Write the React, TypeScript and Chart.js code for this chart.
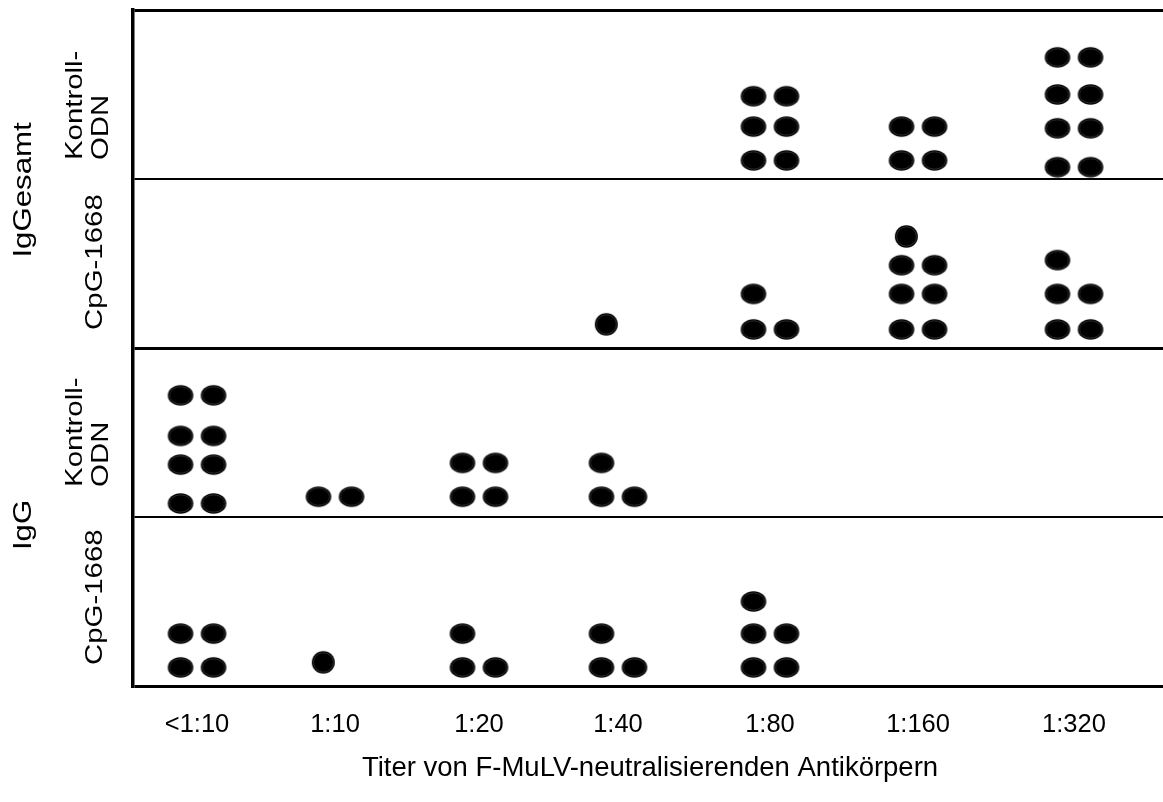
import React, { useEffect, useRef } from 'react';
import { Chart, registerables } from 'chart.js';

Chart.register(...registerables);

const FONT = '"Liberation Sans", Arial, Helvetica, sans-serif';

// Titer categories (x axis)
const titerLabels = ['<1:10', '1:10', '1:20', '1:40', '1:80', '1:160', '1:320'];
const titerPositions = [0, 0.944, 1.929, 2.88, 3.92, 4.933, 6];
const xAxisTitle = 'Titer von F-MuLV-neutralisierenden Antikörpern';

// Panels stacked on the y axis (0-10 bottom panel ... 30-40 top panel)
const panelBounds = [0, 10, 20, 30, 40];
const groupLabels = ['IgGesamt', 'IgG'];
const groupLabelLevels = [29.35, 9.53];
const treatmentLabels = [['Kontroll-', 'ODN'], ['CpG-1668'], ['Kontroll-', 'ODN'], ['CpG-1668']];
const treatmentLabelLevels = [31.12, 21.07, 11.78, 1.24];

// Rows of animals: [titer index, y level, dots in the row, round dot]
const igGesamtKontrollRows = [
  [4, 34.9, 2], [4, 33.1, 2], [4, 31.1, 2],
  [5, 33.1, 2], [5, 31.1, 2],
  [6, 37.2, 2], [6, 35.0, 2], [6, 33.0, 2], [6, 30.7, 2],
];
const igGesamtCpgRows = [
  [3, 21.4, 1, 1],
  [4, 23.2, 1], [4, 21.1, 2],
  [5, 26.6, 1, 1], [5, 24.9, 2], [5, 23.2, 2], [5, 21.1, 2],
  [6, 25.2, 1], [6, 23.2, 2], [6, 21.1, 2],
];
const igGKontrollRows = [
  [0, 17.2, 2], [0, 14.8, 2], [0, 13.1, 2], [0, 10.8, 2],
  [1, 11.2, 2],
  [2, 13.2, 2], [2, 11.2, 2],
  [3, 13.2, 1], [3, 11.2, 2],
];
const igGCpgRows = [
  [0, 3.1, 2], [0, 1.1, 2],
  [1, 1.4, 1, 1],
  [2, 3.1, 1], [2, 1.1, 2],
  [3, 3.1, 1], [3, 1.1, 2],
  [4, 5.0, 1], [4, 3.1, 2], [4, 1.1, 2],
];

const colOffset = 0.113;
const roundOffset = 0.08;

// target plot frame inside the 1163x802 canvas
const AREA = { left: 133, top: 10, right: 1163, bottom: 686 };

function makeDot(w: number, h: number): HTMLCanvasElement {
  const c = document.createElement('canvas');
  c.width = Math.ceil(w) + 2;
  c.height = Math.ceil(h) + 2;
  const g = c.getContext('2d')!;
  g.beginPath();
  g.ellipse(c.width / 2, c.height / 2, w / 2, h / 2, 0, 0, Math.PI * 2);
  g.fillStyle = '#000';
  g.fill();
  g.beginPath();
  g.ellipse(c.width / 2, c.height / 2, w / 2 - 1.6, h / 2 - 1.6, 0, 0, Math.PI * 2);
  g.strokeStyle = 'rgba(110,110,110,0.7)';
  g.lineWidth = 0.6;
  g.stroke();
  return c;
}

function toPoints(rows: number[][]) {
  const pts: { x: number; y: number; round: boolean }[] = [];
  rows.forEach(([ti, y, n, r]) => {
    const cx = titerPositions[ti];
    if (n === 2) {
      pts.push({ x: cx - colOffset, y, round: false });
      pts.push({ x: cx + colOffset, y, round: false });
    } else {
      pts.push({ x: cx - (r ? roundOffset : colOffset), y, round: !!r });
    }
  });
  return pts;
}

export default function App() {
  const ref = useRef<HTMLCanvasElement>(null);

  useEffect(() => {
    if (!ref.current) return;
    const oval = makeDot(25.5, 20.5);
    const round = makeDot(23, 22.5);

    const labelsPlugin = {
      id: 'panelLabels',
      afterDraw(chart: any) {
        const ctx = chart.ctx as CanvasRenderingContext2D;
        const ys = chart.scales.y;
        const xs = chart.scales.x;
        const area = chart.chartArea;
        const rot = (text: string, x: number, y: number, align: CanvasTextAlign, base: CanvasTextBaseline) => {
          ctx.save();
          ctx.translate(x, y);
          ctx.rotate(-Math.PI / 2);
          ctx.scale(1.2, 1);
          ctx.textAlign = align;
          ctx.textBaseline = base;
          ctx.fillText(text, 0, 0);
          ctx.restore();
        };
        ctx.save();
        ctx.fillStyle = '#000';
        ctx.font = `26px ${FONT}`;
        groupLabels.forEach((t, i) => rot(t, 24, ys.getPixelForValue(groupLabelLevels[i]), 'center', 'middle'));
        ctx.font = `24.5px ${FONT}`;
        treatmentLabels.forEach((lines, i) => {
          const y = ys.getPixelForValue(treatmentLabelLevels[i]);
          if (lines.length === 2) {
            rot(lines[0], 82, y, 'left', 'alphabetic');
            rot(lines[1], 108, y, 'left', 'alphabetic');
          } else {
            rot(lines[0], 102, y, 'left', 'alphabetic');
          }
        });
        // x tick labels
        ctx.font = `25.5px ${FONT}`;
        ctx.textAlign = 'center';
        ctx.textBaseline = 'middle';
        titerLabels.forEach((t, i) => ctx.fillText(t, xs.getPixelForValue(titerPositions[i]), area.bottom + 39));
        // x axis title
        ctx.font = `27.5px ${FONT}`;
        ctx.fillText(xAxisTitle, (area.left + area.right) / 2 + 2, area.bottom + 82);
        ctx.restore();
      },
    };

    const panels = [igGesamtKontrollRows, igGesamtCpgRows, igGKontrollRows, igGCpgRows];
    const chart = new Chart(ref.current, {
      type: 'scatter',
      data: {
        datasets: panels.map((rows, i) => ({
          label: 'panel' + i,
          data: toPoints(rows),
          pointStyle: (c: any) => (c.raw && c.raw.round ? round : oval),
          pointRadius: 12,
          backgroundColor: '#000',
          borderColor: '#000',
          clip: false,
        })),
      },
      options: {
        responsive: false,
        animation: false,
        events: [],
        layout: {
          autoPadding: false,
          padding: { left: AREA.left, top: AREA.top, right: 1163 - AREA.right, bottom: 802 - AREA.bottom },
        },
        plugins: { legend: { display: false }, tooltip: { enabled: false } },
        scales: {
          x: {
            type: 'linear',
            display: false,
            min: -0.438,
            max: 6.609,
          },
          y: {
            type: 'linear',
            min: 0,
            max: 40,
            afterBuildTicks: (s: any) => {
              s.ticks = panelBounds.map((v) => ({ value: v }));
            },
            ticks: { display: false },
            grid: {
              drawTicks: false,
              tickLength: 0,
              color: '#000',
              lineWidth: (c: any) => (c.tick && c.tick.value % 20 === 0 ? 3 : 2),
            },
            border: { display: true, color: '#000', width: 3.5 },
          },
        },
      },
      plugins: [labelsPlugin],
    } as any);

    // correct the layout so that the plot frame lands exactly on AREA
    const a = chart.chartArea;
    const p = { left: AREA.left, top: AREA.top, right: 1163 - AREA.right, bottom: 802 - AREA.bottom };
    const fixed = {
      left: p.left + (AREA.left - a.left),
      top: p.top + (AREA.top - a.top),
      right: p.right + (a.right - AREA.right),
      bottom: p.bottom + (a.bottom - AREA.bottom),
    };
    (chart.options as any).layout.padding = fixed;
    chart.update();

    return () => chart.destroy();
  }, []);

  return (
    <div style={{ position: 'absolute', left: 0, top: 0, width: 1163, height: 802, background: '#fff' }}>
      <canvas ref={ref} width={1163} height={802} style={{ display: 'block' }} />
    </div>
  );
}
